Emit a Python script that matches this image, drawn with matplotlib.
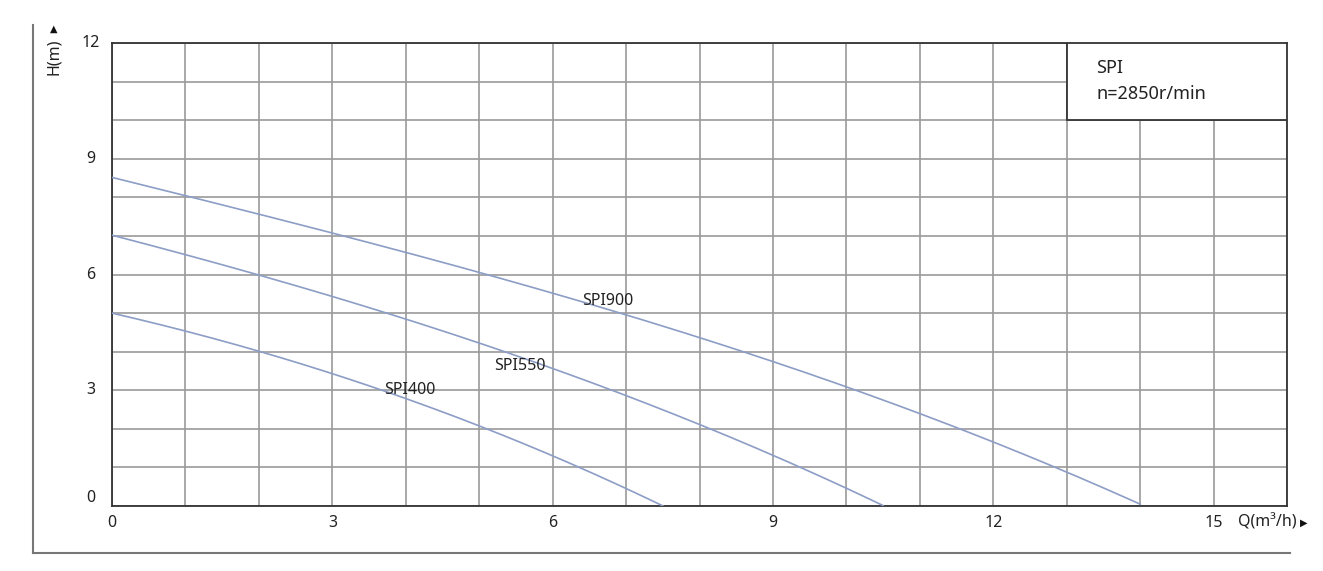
import numpy as np
import matplotlib.pyplot as plt
from matplotlib.lines import Line2D

plt.rcParams['font.family'] = ['Noto Sans', 'DejaVu Sans']

# curves (Q in m3/h, H in m)
q900 = [0, 1, 3, 5, 7, 9, 10, 12, 13, 14]
h900 = [8.5, 8.06, 7.08, 6.07, 4.93, 3.76, 3.03, 1.7, 0.93, 0]
q550 = [0, 2, 4, 6, 7, 9, 10.5]
h550 = [7.0, 6.04, 4.82, 3.47, 2.95, 1.32, 0]
q400 = [0, 2, 3, 5, 6, 7.5]
h400 = [5.0, 4.0, 3.45, 2.05, 1.32, 0]

xticks = [0, 3, 6, 9, 12, 15]
yticks = [0, 3, 6, 9, 12]

fig = plt.figure(figsize=(13.23, 5.71), dpi=100)
ax = fig.add_axes([0.0847, 0.1138, 0.8881, 0.8109])

curve_col = '#8c9dc6'
for q, h in [(q900, h900), (q550, h550), (q400, h400)]:
    q = np.array(q, float)
    h = np.array(h, float)
    # smooth cubic through the read points
    c = np.polyfit(q, h, 3)
    qq = np.linspace(0, q[-1], 200)
    ax.plot(qq, np.clip(np.polyval(c, qq), 0, None), color=curve_col, lw=1.2, zorder=3)

ax.text(6.4, 5.2, 'SPI900', fontsize=11.5, color='#222222', zorder=4)
ax.text(5.2, 3.52, 'SPI550', fontsize=11.5, color='#222222', zorder=4)
ax.text(3.7, 2.9, 'SPI400', fontsize=11.5, color='#222222', zorder=4)

ax.set_xlim(0, 16)
ax.set_ylim(0, 12)
ax.set_xticks(np.arange(0, 17, 1))
ax.set_yticks(np.arange(0, 13, 1))
ax.grid(True, color='#9a9a9a', lw=1.2, zorder=1)
ax.tick_params(length=0, labelbottom=False, labelleft=False)
for s in ax.spines.values():
    s.set_color('#333333')
    s.set_linewidth(1.3)

for t in xticks:
    ax.text(t, -0.45, str(t), ha='center', va='center', fontsize=11.5, color='#222222')
for t in yticks:
    ax.text(-0.29, t + (0.2 if t == 0 else 0), str(t), ha='center', va='center', fontsize=11.5, color='#222222')

# info box
ax.add_patch(plt.Rectangle((13, 10), 3, 2, facecolor='white', edgecolor='#333333', lw=1.3, zorder=5))
ax.text(13.4, 11.35, 'SPI', fontsize=13, va='center', color='#222222', zorder=6)
ax.text(13.4, 10.68, 'n=2850r/min', fontsize=13, va='center', color='#222222', zorder=6)

# outer axis lines and labels
fig.add_artist(Line2D([33/1323, 33/1323], [1-553/571, 1-25/571], color='#777777', lw=1.5))
fig.add_artist(Line2D([33/1323, 1290/1323], [1-553/571, 1-553/571], color='#777777', lw=1.5))
fig.text(54/1323, 1-57/571, 'H(m)', rotation=90, ha='center', va='center', fontsize=11.5, color='#222222')
fig.text(54/1323, 1-29/571, '▲', ha='center', va='center', fontsize=7, color='#111111')
fig.text(1267/1323, 1-522/571, 'Q(m³/h)', ha='center', va='center', fontsize=11.5, color='#222222')
fig.text(1304/1323, 1-523/571, '▶', ha='center', va='center', fontsize=7, color='#111111')

fig.savefig('out.png', dpi=100)
